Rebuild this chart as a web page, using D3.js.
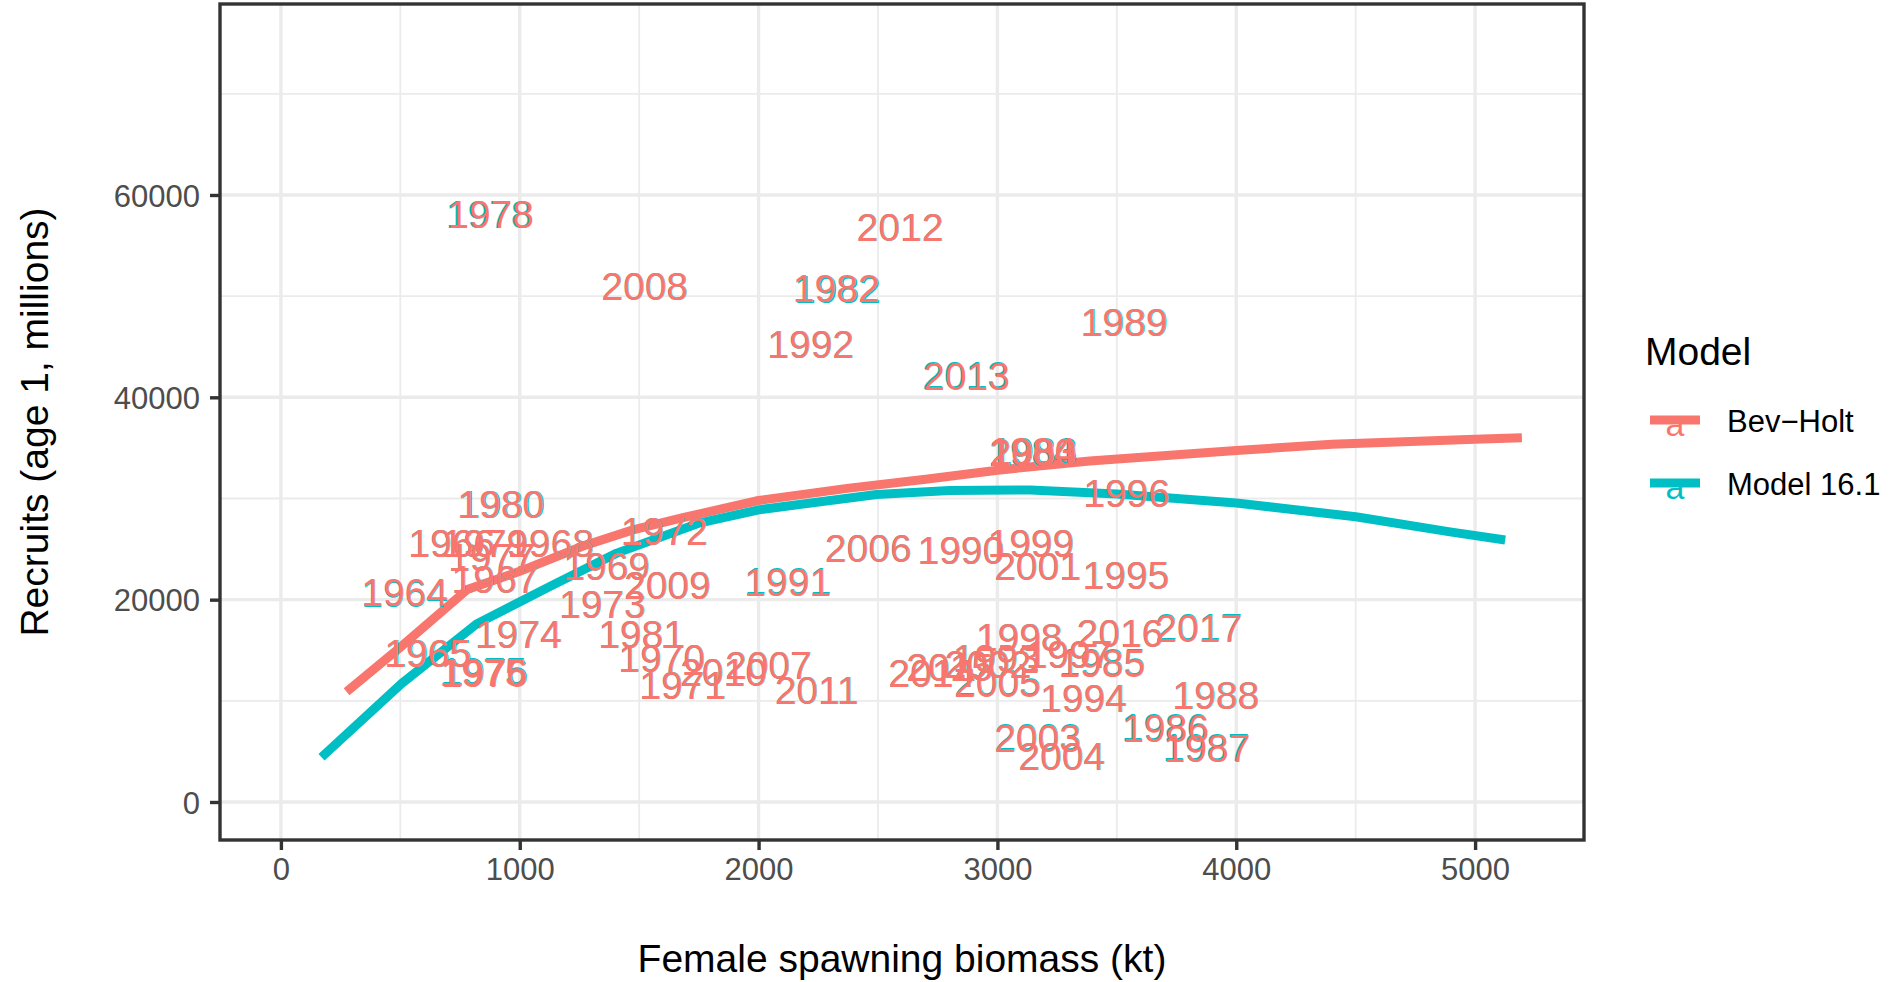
<!DOCTYPE html>
<html>
<head>
<meta charset="utf-8">
<script src="https://cdn.jsdelivr.net/npm/d3@7"></script>
<style>
  body { margin: 0; background: #ffffff; }
  svg { display: block; }
  text { font-family: "Liberation Sans", Arial, Helvetica, sans-serif; }
</style>
</head>
<body>
<svg id="chart" width="1896" height="982"></svg>
<script>
// Stock-recruit estimates by year (SSB in kt, recruits in millions)
const years = [1964,1965,1966,1967,1968,1969,1970,1971,1972,1973,1974,1975,1976,1977,1978,1979,
  1980,1981,1982,1983,1984,1985,1986,1987,1988,1989,1990,1991,1992,1993,1994,1995,1996,1997,1998,1999,
  2000,2001,2002,2003,2004,2005,2006,2007,2008,2009,2010,2011,2012,2013,2014,2015,2016,2017];

// Bev-Holt model
const bhSsb = [518,614,715,896,1129,1364,1594,1682,1605,1346,994,846,852,882,878,854,
  920,1510,2325,3150,3145,3437,3705,3878,3914,3530,2847,2122,2218,2995,3360,3538,3541,3300,3091,3140,
  3148,3168,2960,3168,3269,3000,2459,2041,1523,1618,1853,2243,2592,2871,2725,2800,3513,3843];
const bhRec = [20719,14731,25600,22042,25600,23357,14200,11565,26806,19551,16606,12880,12780,24246,58084,25600,
  29436,16606,50778,34600,34650,13789,7364,5389,10539,47475,24909,21796,45269,14200,10250,22437,30512,14600,16340,25569,
  34620,23347,13600,6375,4567,11812,25077,13533,51018,21449,12814,11071,56835,42126,12721,13300,16675,17246];

// Model 16.1
const m16Ssb = [519,618,716,897,1130,1365,1595,1683,1606,1347,995,849,855,883,872,855,
  925,1511,2331,3154,3142,3438,3701,3874,3916,3533,2848,2123,2219,2996,3361,3539,3542,3301,3092,3141,
  3150,3169,2961,3169,3270,3001,2460,2042,1524,1619,1854,2244,2593,2867,2726,2801,3514,3844];
const m16Rec = [20700,14700,25620,22060,25610,23370,14210,11570,26820,19560,16620,12920,12830,24260,58150,25610,
  29450,16620,50760,34680,34640,13800,7380,5400,10550,47480,24920,21800,45280,14210,10260,22450,30520,14610,16350,25580,
  34600,23360,13610,6390,4580,11820,25090,13540,51030,21460,12820,11080,56850,42200,12730,13310,16690,17260];

// Fitted stock-recruit curves
const bhCurveSsb = [275,500,780,1000,1265,1474,1683,2000,2371,2700,3000,3386,4000,4401,5000,5196];
const bhCurveRec = [10900,15300,21000,22800,25300,26900,28100,29800,31000,31900,32800,33700,34750,35350,35850,36010];
const m16CurveSsb = [170,505,819,1126,1406,1755,2006,2494,2800,3137,3500,4000,4500,4895,5126];
const m16CurveRec = [4420,11700,17600,21300,24600,27600,28900,30400,30800,30850,30450,29550,28200,26700,25900];

const xTicks = [0,1000,2000,3000,4000,5000];
const xMinor = [500,1500,2500,3500,4500];
const yTicks = [0,20000,40000,60000];
const yMinor = [10000,30000,50000,70000];

const modelNames = ["Bev\u2212Holt", "Model 16.1"];
const modelColors = ["#F8766D", "#00BFC4"];

const svg = d3.select("#chart");
const panel = { left: 220, right: 1584, top: 4, bottom: 840 };

const x = d3.scaleLinear().domain([-255, 5456]).range([panel.left, panel.right]);
const y = d3.scaleLinear().domain([-3756, 78877]).range([panel.bottom, panel.top]);

// panel background
svg.append("rect")
  .attr("x", panel.left).attr("y", panel.top)
  .attr("width", panel.right - panel.left).attr("height", panel.bottom - panel.top)
  .attr("fill", "#ffffff");

const grid = svg.append("g");
// minor grid
grid.selectAll(".vminor").data(xMinor).join("line")
  .attr("x1", d => x(d)).attr("x2", d => x(d))
  .attr("y1", panel.top).attr("y2", panel.bottom)
  .attr("stroke", "#EBEBEB").attr("stroke-width", 1.8);
grid.selectAll(".hminor").data(yMinor).join("line")
  .attr("y1", d => y(d)).attr("y2", d => y(d))
  .attr("x1", panel.left).attr("x2", panel.right)
  .attr("stroke", "#EBEBEB").attr("stroke-width", 1.8);
// major grid
grid.selectAll(".vmajor").data(xTicks).join("line")
  .attr("x1", d => x(d)).attr("x2", d => x(d))
  .attr("y1", panel.top).attr("y2", panel.bottom)
  .attr("stroke", "#EBEBEB").attr("stroke-width", 3.4);
grid.selectAll(".hmajor").data(yTicks).join("line")
  .attr("y1", d => y(d)).attr("y2", d => y(d))
  .attr("x1", panel.left).attr("x2", panel.right)
  .attr("stroke", "#EBEBEB").attr("stroke-width", 3.4);

// curves
const line = d3.line().x(d => x(d[0])).y(d => y(d[1]));
const curves = [
  d3.zip(bhCurveSsb, bhCurveRec),
  d3.zip(m16CurveSsb, m16CurveRec)
];
svg.append("g").selectAll("path").data(curves).join("path")
  .attr("d", line)
  .attr("fill", "none")
  .attr("stroke", (d, i) => modelColors[i])
  .attr("stroke-width", 9)
  .attr("stroke-linejoin", "round")
  .attr("stroke-linecap", "butt");

// year labels: Model 16.1 underneath, Bev-Holt on top
const labelSets = [
  { color: modelColors[1], pts: years.map((yr, i) => [yr, m16Ssb[i], m16Rec[i]]) },
  { color: modelColors[0], pts: years.map((yr, i) => [yr, bhSsb[i], bhRec[i]]) }
];
labelSets.forEach(set => {
  svg.append("g").selectAll("text").data(set.pts).join("text")
    .attr("x", d => x(d[1]))
    .attr("y", d => y(d[2]))
    .attr("dy", "0.36em")
    .attr("text-anchor", "middle")
    .attr("font-size", 39)
    .attr("fill", set.color)
    .text(d => d[0]);
});

// panel border
svg.append("rect")
  .attr("x", panel.left).attr("y", panel.top)
  .attr("width", panel.right - panel.left).attr("height", panel.bottom - panel.top)
  .attr("fill", "none").attr("stroke", "#333333").attr("stroke-width", 3.4);

// axes
const xAxis = svg.append("g")
  .attr("transform", `translate(0,${panel.bottom})`)
  .call(d3.axisBottom(x).tickValues(xTicks).tickSize(10).tickPadding(8).tickFormat(d3.format("d")));
const yAxis = svg.append("g")
  .attr("transform", `translate(${panel.left},0)`)
  .call(d3.axisLeft(y).tickValues(yTicks).tickSize(10).tickPadding(10).tickFormat(d3.format("d")));
[xAxis, yAxis].forEach(a => {
  a.select(".domain").remove();
  a.selectAll(".tick line").attr("stroke", "#333333").attr("stroke-width", 3.4);
  a.selectAll(".tick text").attr("fill", "#4D4D4D").attr("font-size", 31)
    .attr("font-family", "\"Liberation Sans\", Arial, Helvetica, sans-serif");
});
xAxis.selectAll(".tick text").attr("dy", "0.71em");
yAxis.selectAll(".tick text").attr("dy", "0.36em");

// axis titles
svg.append("text")
  .attr("x", (panel.left + panel.right) / 2).attr("y", 972)
  .attr("text-anchor", "middle").attr("font-size", 39).attr("fill", "#000")
  .text("Female spawning biomass (kt)");
svg.append("text")
  .attr("transform", `translate(48,${(panel.top + panel.bottom) / 2}) rotate(-90)`)
  .attr("text-anchor", "middle").attr("font-size", 39).attr("fill", "#000")
  .text("Recruits (age 1, millions)");

// legend
const legend = svg.append("g");
legend.append("text")
  .attr("x", 1645).attr("y", 365)
  .attr("font-size", 39).attr("fill", "#000")
  .text("Model");
const keyY = [420, 483];
modelNames.forEach((name, i) => {
  legend.append("line")
    .attr("x1", 1650).attr("x2", 1700)
    .attr("y1", keyY[i]).attr("y2", keyY[i])
    .attr("stroke", modelColors[i]).attr("stroke-width", 9);
  legend.append("text")
    .attr("x", 1675).attr("y", keyY[i] + 16)
    .attr("text-anchor", "middle").attr("font-size", 34)
    .attr("fill", modelColors[i])
    .text("a");
  legend.append("text")
    .attr("x", 1727).attr("y", keyY[i] + 12)
    .attr("font-size", 31).attr("fill", "#000")
    .text(name);
});
</script>
</body>
</html>
